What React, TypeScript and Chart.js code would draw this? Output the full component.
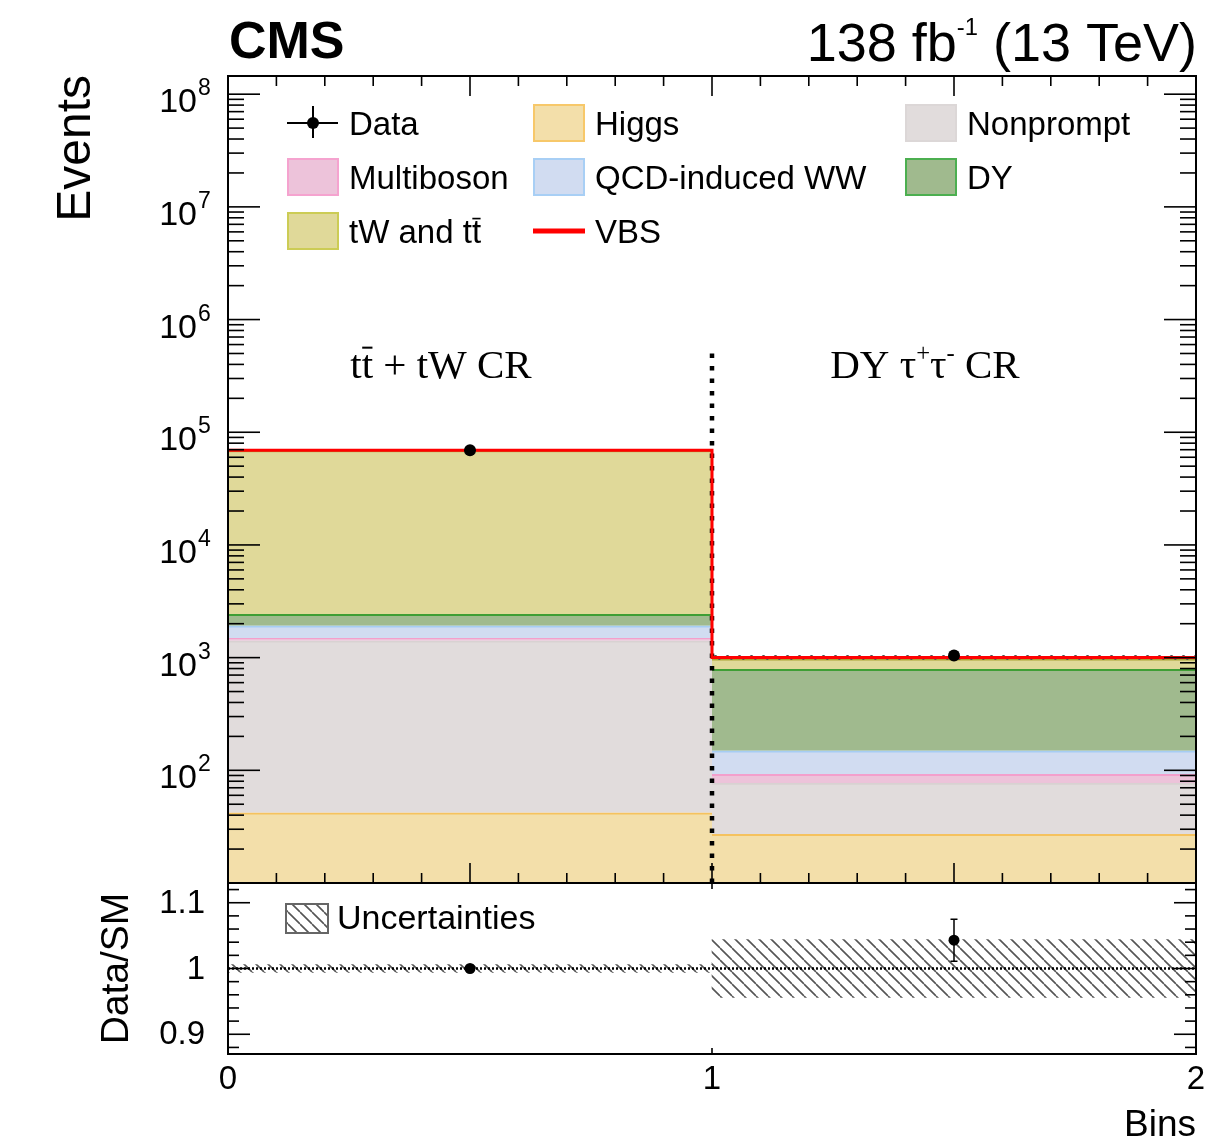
import React, { useEffect, useRef } from "react";
import { Chart, registerables } from "chart.js";

Chart.register(...registerables);

// ---------------- data ----------------
const BIN_CENTERS = [0.5, 1.5];
const HIGGS = [42, 27];
const NONPROMPT = [1368, 50];
const MULTIBOSON = [76, 15];
const QCD_WW = [429, 57];
const DY = [512, 640];
const TW_TT = [66500, 186];
const VBS = [300, 27];
const DATA = [69200, 1045];
const DATA_ERR = [263, 32];
const RATIO = [1.0, 1.043];
const RATIO_ERR = [0.004, 0.032];
const REL_UNC = [0.006, 0.044];
const DIVIDER_X = [1, 1];
const DIVIDER_Y = [5e5, 10];
const X_TICKS = [0, 1, 2];
const X_TICK_LABELS = ["0", "1", "2"];
const Y_DECADES = [2, 3, 4, 5, 6, 7, 8];
const RATIO_TICKS = [0.9, 1.0, 1.1];
const RATIO_TICK_LABELS = ["0.9", "1", "1.1"];
const PROCESS_NAMES = ["Higgs", "Nonprompt", "Multiboson", "QCD-induced WW", "DY", "tW and tt\u0304", "VBS"];
const REGION_LABELS = ["tt\u0304 + tW CR", "DY \u03c4^{+}\u03c4^{-} CR"];
const REGION_X = [0.44, 1.44];

// ---------------- styles ----------------
const W = 1231;
const H = 1139;
const SANS = '"Liberation Sans", Arial, Helvetica, sans-serif';
const SERIF = '"Liberation Serif", "Times New Roman", serif';
const FILLS = ["#f3dfaa", "#e1dcdc", "#edc3da", "#d1dcf1", "#a0ba8e", "#e0d999", "#ff0000"];
const LINES = ["#f5c25e", "#d8d2d2", "#f39fcc", "#a6cdf3", "#3f9e35", "#a8a332", "#ff0000"];
const LEGEND_BORDERS = ["#f7c86a", "#dcd7d7", "#f5a3cf", "#a8cff5", "#4caf50", "#cccc55", "#ff0000"];

type Seg = { t: string; size: number; family: string; bold?: boolean; dy?: number; overline?: boolean };

function fontOf(s: Seg) {
  return `${s.bold ? "bold " : ""}${s.size}px ${s.family}`;
}

function parseRich(text: string, size: number, family: string, bold = false, supScale = 0.6, supRaise = 0.4): Seg[] {
  const segs: Seg[] = [];
  let buf = "";
  const flush = () => {
    if (buf) {
      segs.push({ t: buf, size, family, bold });
      buf = "";
    }
  };
  let i = 0;
  while (i < text.length) {
    const ch = text[i];
    if (ch === "^" && text[i + 1] === "{") {
      const end = text.indexOf("}", i);
      flush();
      segs.push({ t: text.slice(i + 2, end), size: size * supScale, family, bold, dy: -size * supRaise });
      i = end + 1;
      continue;
    }
    if (text[i + 1] === "\u0304") {
      flush();
      segs.push({ t: ch, size, family, bold, overline: true });
      i += 2;
      continue;
    }
    buf += ch;
    i++;
  }
  flush();
  return segs;
}

function drawRich(ctx: CanvasRenderingContext2D, segs: Seg[], x: number, y: number, align: "left" | "center" | "right") {
  let w = 0;
  for (const s of segs) {
    ctx.font = fontOf(s);
    w += ctx.measureText(s.t).width;
  }
  let cx = align === "left" ? x : align === "center" ? x - w / 2 : x - w;
  ctx.textAlign = "left";
  ctx.textBaseline = "alphabetic";
  for (const s of segs) {
    ctx.font = fontOf(s);
    const sw = ctx.measureText(s.t).width;
    ctx.fillText(s.t, cx, y + (s.dy || 0));
    if (s.overline) {
      ctx.save();
      ctx.lineWidth = Math.max(1.5, s.size * 0.05);
      ctx.strokeStyle = ctx.fillStyle as string;
      ctx.beginPath();
      const oy = y - s.size * 0.74;
      ctx.moveTo(cx + sw * 0.05, oy);
      ctx.lineTo(cx + sw * 0.95, oy);
      ctx.stroke();
      ctx.restore();
    }
    cx += sw;
  }
}

function makeHatch(period: number, color: string, lw: number) {
  const c = document.createElement("canvas");
  c.width = period;
  c.height = period;
  const g = c.getContext("2d")!;
  g.strokeStyle = color;
  g.lineWidth = lw;
  g.beginPath();
  for (const off of [-period, 0, period]) {
    g.moveTo(off, 0);
    g.lineTo(off + period, period);
  }
  g.stroke();
  return g.createPattern(c, "repeat")!;
}

export default function App() {
  const ref = useRef<HTMLCanvasElement>(null);

  useEffect(() => {
    const canvas = ref.current!;
    const hatch = makeHatch(12, "#555555", 1.6);
    const series = [HIGGS, NONPROMPT, MULTIBOSON, QCD_WW, DY, TW_TT, VBS];
    const totals = BIN_CENTERS.map((_, i) => series.reduce((s, arr) => s + arr[i], 0));

    const barSets = series.map((vals, k) => ({
      type: "bar" as const,
      label: PROCESS_NAMES[k],
      data: BIN_CENTERS.map((x, i) => ({ x, y: vals[i] })),
      backgroundColor: FILLS[k],
      borderColor: LINES[k],
      borderWidth: k === 6 ? { top: 3, left: 0, right: 0, bottom: 0 } : { top: 2, left: 0, right: 0, bottom: 0 },
      borderSkipped: false,
      yAxisID: "y",
      stack: "mc",
      grouped: false,
      barPercentage: 1,
      categoryPercentage: 1,
      order: 10,
    }));

    const datasets: any[] = [
      {
        type: "line",
        label: "Data",
        data: BIN_CENTERS.map((x, i) => ({ x, y: DATA[i] })),
        showLine: false,
        pointRadius: 6,
        pointBackgroundColor: "#000",
        pointBorderColor: "#000",
        pointBorderWidth: 0,
        yAxisID: "y",
        stack: "s_data",
        order: 0,
      },
      {
        type: "line",
        label: "Data/SM",
        data: BIN_CENTERS.map((x, i) => ({ x, y: RATIO[i] })),
        showLine: false,
        pointRadius: 5.5,
        pointBackgroundColor: "#000",
        pointBorderColor: "#000",
        pointBorderWidth: 0,
        yAxisID: "yr",
        order: 0,
      },
      {
        type: "line",
        label: "unity",
        data: [
          { x: X_TICKS[0], y: 1 },
          { x: X_TICKS[2], y: 1 },
        ],
        borderColor: "#000",
        borderWidth: 2.5,
        borderDash: [2, 2],
        pointRadius: 0,
        yAxisID: "yr",
        order: 1,
      },
      {
        type: "line",
        label: "total outline",
        data: [
          { x: X_TICKS[0], y: totals[0] },
          { x: X_TICKS[1], y: totals[1] },
          { x: X_TICKS[2], y: totals[1] },
        ],
        stepped: "before",
        borderColor: "#ff0000",
        borderWidth: 3,
        pointRadius: 0,
        yAxisID: "y",
        stack: "s_outline",
        order: 2,
      },
      {
        type: "line",
        label: "divider",
        data: DIVIDER_X.map((x, i) => ({ x, y: DIVIDER_Y[i] })),
        borderColor: "#000",
        borderWidth: 4.5,
        borderDash: [4.5, 8],
        pointRadius: 0,
        yAxisID: "y",
        stack: "s_div",
        order: 3,
      },
      {
        type: "bar",
        label: "unc main",
        data: BIN_CENTERS.map((x, i) => ({ x, y: [totals[i] * (1 - REL_UNC[i]), totals[i] * (1 + REL_UNC[i])] })),
        backgroundColor: hatch,
        borderWidth: 0,
        yAxisID: "y",
        stack: "unc",
        grouped: false,
        barPercentage: 1,
        categoryPercentage: 1,
        order: 4,
      },
      {
        type: "bar",
        label: "Uncertainties",
        data: BIN_CENTERS.map((x, i) => ({ x, y: [1 - REL_UNC[i], 1 + REL_UNC[i]] })),
        backgroundColor: hatch,
        borderWidth: 0,
        yAxisID: "yr",
        grouped: false,
        barPercentage: 1,
        categoryPercentage: 1,
        order: 4,
      },
      ...barSets,
    ];

    const rootPlugin = {
      id: "rootStyle",
      afterDatasetsDraw(chart: any) {
        const ctx: CanvasRenderingContext2D = chart.ctx;
        const xs = chart.scales.x;
        const ys = chart.scales.y;
        const yr = chart.scales.yr;
        const L = chart.chartArea.left;
        const R = chart.chartArea.right;
        const mT = ys.top;
        const mB = ys.bottom;
        const rT = yr.top;
        const rB = yr.bottom;
        ctx.save();
        ctx.fillStyle = "#000";
        ctx.strokeStyle = "#000";

        // error bars
        ctx.lineWidth = 2;
        BIN_CENTERS.forEach((c, i) => {
          const px = xs.getPixelForValue(c);
          ctx.beginPath();
          ctx.moveTo(px, ys.getPixelForValue(DATA[i] - DATA_ERR[i]));
          ctx.lineTo(px, ys.getPixelForValue(DATA[i] + DATA_ERR[i]));
          ctx.stroke();
          const a = yr.getPixelForValue(RATIO[i] - RATIO_ERR[i]);
          const b = yr.getPixelForValue(RATIO[i] + RATIO_ERR[i]);
          ctx.lineWidth = 1.5;
          ctx.beginPath();
          ctx.moveTo(px, a);
          ctx.lineTo(px, b);
          ctx.moveTo(px - 3.5, a);
          ctx.lineTo(px + 3.5, a);
          ctx.moveTo(px - 3.5, b);
          ctx.lineTo(px + 3.5, b);
          ctx.stroke();
          ctx.lineWidth = 2;
        });

        // frames
        ctx.lineWidth = 2;
        ctx.strokeRect(L, mT, R - L, mB - mT);
        ctx.strokeRect(L, rT, R - L, rB - rT);

        // ticks
        ctx.lineWidth = 1.6;
        const tick = (x1: number, y1: number, x2: number, y2: number) => {
          ctx.beginPath();
          ctx.moveTo(x1, y1);
          ctx.lineTo(x2, y2);
          ctx.stroke();
        };
        for (let e = 1; e <= 8; e++) {
          for (let m = 1; m <= 9; m++) {
            const v = m * Math.pow(10, e);
            if (v <= ys.min || v > ys.max) continue;
            const py = ys.getPixelForValue(v);
            const len = m === 1 ? 32 : 16;
            tick(L, py, L + len, py);
            tick(R, py, R - len, py);
          }
        }
        for (let i = 0; i <= 20; i++) {
          const px = xs.getPixelForValue(i / 10);
          const len = i % 5 === 0 ? 20 : 10;
          tick(px, mT, px, mT + len);
          tick(px, mB, px, mB - len);
        }
        for (let i = 44; i <= 56; i++) {
          const py = yr.getPixelForValue(i * 0.02);
          const len = i % 5 === 0 ? 22 : 11;
          tick(L, py, L + len, py);
          tick(R, py, R - len, py);
        }
        for (const v of X_TICKS) {
          const px = xs.getPixelForValue(v);
          tick(px, rT, px, rT + 6);
          tick(px, rB, px, rB - 6);
        }

        // y tick labels (main)
        for (const e of Y_DECADES) {
          const py = ys.getPixelForValue(Math.pow(10, e));
          ctx.font = `34px ${SANS}`;
          ctx.textAlign = "right";
          ctx.textBaseline = "alphabetic";
          ctx.fillText("10", 197, py + 18);
          ctx.font = `23px ${SANS}`;
          ctx.textAlign = "left";
          ctx.fillText(String(e), 198, py + 1);
        }
        // ratio tick labels
        ctx.font = `33px ${SANS}`;
        ctx.textAlign = "right";
        ctx.textBaseline = "middle";
        RATIO_TICKS.forEach((v, i) => {
          ctx.fillText(RATIO_TICK_LABELS[i], 205, yr.getPixelForValue(v) + 1);
        });
        // x tick labels
        ctx.textAlign = "center";
        X_TICKS.forEach((v, i) => {
          ctx.fillText(X_TICK_LABELS[i], xs.getPixelForValue(v), 1080);
        });

        // axis titles
        ctx.textBaseline = "alphabetic";
        ctx.font = `37px ${SANS}`;
        ctx.textAlign = "right";
        ctx.fillText("Bins", R, 1136);
        ctx.save();
        ctx.translate(90, mT - 1);
        ctx.rotate(-Math.PI / 2);
        ctx.font = `48px ${SANS}`;
        ctx.textAlign = "right";
        ctx.fillText("Events", 0, 0);
        ctx.restore();
        ctx.save();
        ctx.translate(128, (rT + rB) / 2);
        ctx.rotate(-Math.PI / 2);
        ctx.font = `39px ${SANS}`;
        ctx.textAlign = "center";
        ctx.fillText("Data/SM", 0, 0);
        ctx.restore();

        // header
        drawRich(ctx, [{ t: "CMS", size: 52, family: SANS, bold: true }], L + 1, 58, "left");
        drawRich(ctx, parseRich("138 fb^{-1} (13 TeV)", 54, SANS, false, 0.44, 0.48), R + 1, 61, "right");

        // region labels
        REGION_LABELS.forEach((t, i) => {
          drawRich(ctx, parseRich(t, 41, SERIF, false, 0.6, 0.42), xs.getPixelForValue(REGION_X[i]), 378, "center");
        });

        // legend
        const rows = [123, 177, 231];
        const cols = [287, 533, 905];
        const items: { col: number; row: number; k: number }[] = [
          { col: 0, row: 1, k: 2 },
          { col: 0, row: 2, k: 5 },
          { col: 1, row: 0, k: 0 },
          { col: 1, row: 1, k: 3 },
          { col: 1, row: 2, k: 6 },
          { col: 2, row: 0, k: 1 },
          { col: 2, row: 1, k: 4 },
        ];
        // Data entry
        {
          const bx = cols[0];
          const cy = rows[0];
          ctx.lineWidth = 2;
          ctx.beginPath();
          ctx.moveTo(bx, cy);
          ctx.lineTo(bx + 51, cy);
          ctx.moveTo(bx + 26, cy - 17);
          ctx.lineTo(bx + 26, cy + 15);
          ctx.stroke();
          ctx.beginPath();
          ctx.arc(bx + 26, cy, 6, 0, Math.PI * 2);
          ctx.fill();
          drawRich(ctx, parseRich("Data", 33, SANS), bx + 62, cy + 12, "left");
        }
        for (const it of items) {
          const bx = cols[it.col];
          const cy = rows[it.row];
          if (it.k === 6) {
            ctx.fillStyle = FILLS[6];
            ctx.fillRect(bx, cy - 2.5, 52, 5);
          } else {
            ctx.fillStyle = FILLS[it.k];
            ctx.fillRect(bx, cy - 19, 52, 38);
            ctx.strokeStyle = LEGEND_BORDERS[it.k];
            ctx.lineWidth = 2;
            ctx.strokeRect(bx + 1, cy - 18, 50, 36);
          }
          ctx.fillStyle = "#000";
          ctx.strokeStyle = "#000";
          drawRich(ctx, parseRich(PROCESS_NAMES[it.k], 33, SANS), bx + 62, cy + 12, "left");
        }

        // ratio legend
        ctx.fillStyle = hatch;
        ctx.fillRect(285, 903, 44, 31);
        ctx.strokeStyle = "#666";
        ctx.lineWidth = 2;
        ctx.strokeRect(286, 904, 42, 29);
        ctx.fillStyle = "#000";
        drawRich(ctx, parseRich("Uncertainties", 34, SANS), 337, 929, "left");

        ctx.restore();
      },
    };

    const chart = new Chart(canvas, {
      type: "bar",
      data: { datasets },
      options: {
        animation: false,
        responsive: false,
        devicePixelRatio: 1,
        events: [],
        layout: { padding: { left: 228, right: 35, top: 76, bottom: 85 } },
        plugins: { legend: { display: false }, tooltip: { enabled: false } },
        scales: {
          x: { type: "linear", min: 0, max: 2, offset: false, display: false, ticks: { stepSize: 1 }, bounds: "data" },
          y: {
            type: "logarithmic",
            min: 10,
            max: 1.45e8,
            stacked: true,
            stack: "panels",
            stackWeight: 807,
            weight: 2,
            position: "left",
            display: false,
            bounds: "data",
          },
          yr: {
            type: "linear",
            min: 0.87,
            max: 1.13,
            stacked: false,
            stack: "panels",
            stackWeight: 171,
            weight: 1,
            position: "left",
            display: false,
            bounds: "data",
          },
        },
      } as any,
      plugins: [rootPlugin],
    } as any);

    return () => chart.destroy();
  }, []);

  return (
    <div style={{ position: "absolute", left: 0, top: 0, width: W, height: H, background: "#fff" }}>
      <canvas ref={ref} width={W} height={H} style={{ display: "block", width: W, height: H }} />
    </div>
  );
}
